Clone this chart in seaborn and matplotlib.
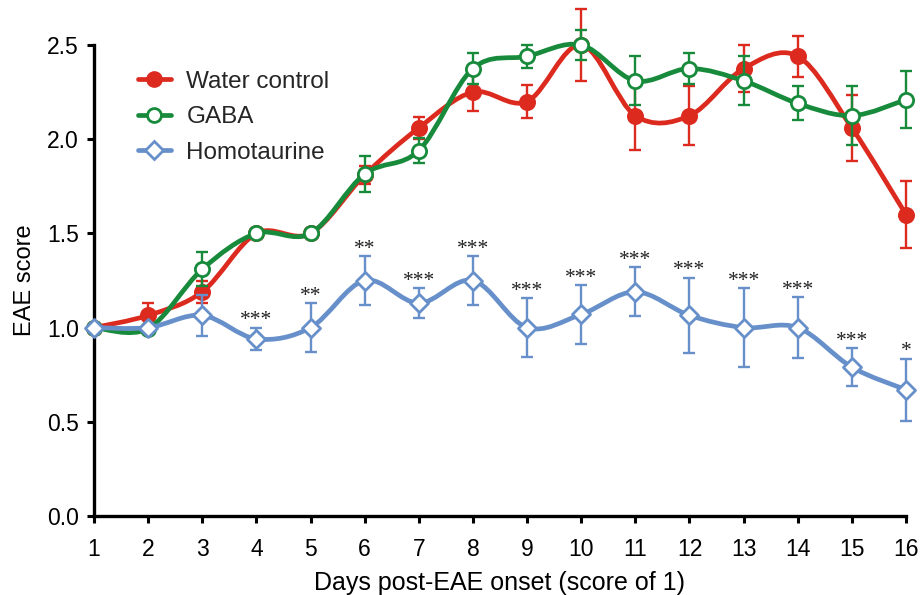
import numpy as np
import pandas as pd
import matplotlib
matplotlib.use("Agg")
import matplotlib.pyplot as plt
from matplotlib.path import Path
from matplotlib.patches import PathPatch
from matplotlib.lines import Line2D
import seaborn as sns

# ---------------- data ----------------
days = list(range(1, 17))

water_mean = [1.0, 1.065, 1.19, 1.5, 1.5, 1.81, 2.06, 2.25, 2.2, 2.5, 2.125, 2.125, 2.375, 2.44, 2.06, 1.6]
water_err = [0.0, 0.065, 0.06, 0.0, 0.0, 0.05, 0.06, 0.10, 0.09, 0.19, 0.18, 0.155, 0.125, 0.11, 0.175, 0.18]

gaba_mean = [1.0, 0.995, 1.31, 1.5, 1.5, 1.815, 1.94, 2.375, 2.44, 2.5, 2.31, 2.375, 2.31, 2.19, 2.125, 2.21]
gaba_err = [0.0, 0.0, 0.09, 0.0, 0.0, 0.095, 0.065, 0.08, 0.06, 0.08, 0.13, 0.08, 0.13, 0.09, 0.155, 0.15]

homo_mean = [1.0, 1.0, 1.065, 0.94, 1.0, 1.25, 1.13, 1.25, 1.0, 1.07, 1.19, 1.065, 1.0, 1.0, 0.79, 0.67]
homo_err = [0.0, 0.0, 0.11, 0.06, 0.13, 0.13, 0.08, 0.13, 0.155, 0.155, 0.13, 0.2, 0.21, 0.16, 0.10, 0.165]

stars = ["", "", "", "***", "**", "**", "***", "***", "***", "***", "***", "***", "***", "***", "***", "*"]

series_names = ["Water control", "GABA", "Homotaurine"]
x_ticks = list(range(1, 17))
y_ticks = [0.0, 0.5, 1.0, 1.5, 2.0, 2.5]
x_label = "Days post-EAE onset (score of 1)"
y_label = "EAE score"

# ---------------- style ----------------
sns.set_style("ticks")
plt.rcParams["font.family"] = ["Liberation Sans", "DejaVu Sans"]

RED = "#DC2A1F"
GREEN = "#178B3B"
BLUE = "#6790CB"

fig = plt.figure(figsize=(9.23, 5.95), dpi=100)
ax = fig.add_axes([94 / 923, 1 - 516 / 595, 812 / 923, 471 / 595])


def smooth_path(xs, ys):
    """Catmull-Rom curve through the points, expressed as cubic Bezier segments."""
    pts = np.column_stack([xs, ys]).astype(float)
    n = len(pts)
    verts = [pts[0]]
    codes = [Path.MOVETO]
    for i in range(n - 1):
        p0 = pts[i - 1] if i > 0 else pts[i]
        p1 = pts[i]
        p2 = pts[i + 1]
        p3 = pts[i + 2] if i + 2 < n else pts[i + 1]
        c1 = p1 + (p2 - p0) / 6.0
        c2 = p2 - (p3 - p1) / 6.0
        verts += [c1, c2, p2]
        codes += [Path.CURVE4] * 3
    return Path(verts, codes)


specs = [
    (series_names[0], water_mean, water_err, RED, "o", RED, 1),
    (series_names[1], gaba_mean, gaba_err, GREEN, "o", "white", 2),
    (series_names[2], homo_mean, homo_err, BLUE, "D", "white", 3),
]

for name, mean, err, col, mk, face, z in specs:
    df = pd.DataFrame({"day": days, "score": mean, "err": err})
    # smooth line
    patch = PathPatch(smooth_path(df["day"], df["score"]), facecolor="none",
                      edgecolor=col, lw=3.4, zorder=z * 10, clip_on=False,
                      capstyle="round", joinstyle="round")
    ax.add_patch(patch)
    # error bars
    e = df[df["err"] > 0]
    ax.errorbar(e["day"], e["score"], yerr=e["err"], fmt="none", ecolor=col,
                elinewidth=1.7, capsize=4.5, capthick=1.7, zorder=z * 10 + 1,
                clip_on=False)
    # markers
    sns.scatterplot(data=df, x="day", y="score", ax=ax, marker=mk,
                    s=(105 if mk == "o" else 85), color=face, edgecolor=col,
                    linewidth=2.0, zorder=z * 10 + 2, clip_on=False, legend=False)

# significance stars
for d, m, e, s in zip(days, homo_mean, homo_err, stars):
    if s:
        ax.annotate(s, xy=(d, m + e), xytext=(0, 5), textcoords="offset points",
                    ha="center", va="center", fontsize=15.5, color="#222222",
                    family=["Liberation Serif", "DejaVu Serif"], zorder=50)

# axes
ax.set_xlim(1, 16)
ax.set_ylim(0, 2.5)
ax.set_xticks(x_ticks)
ax.set_xticklabels([str(t) for t in x_ticks])
ax.set_yticks(y_ticks)
ax.set_yticklabels([f"{t:.1f}" for t in y_ticks])
ax.tick_params(axis="both", direction="out", length=5, width=2.2, labelsize=16.5,
               color="black", labelcolor="black")
ax.tick_params(axis="x", pad=11)
ax.tick_params(axis="y", pad=6)
ax.set_xlabel(x_label, fontsize=18, labelpad=7, color="black")
ax.set_ylabel(y_label, fontsize=17, labelpad=8, color="black")
sns.despine(ax=ax)
for sp in ["left", "bottom"]:
    ax.spines[sp].set_linewidth(2.4)
    ax.spines[sp].set_color("black")
ax.grid(False)

# legend
handles = [
    Line2D([], [], color=RED, lw=3.4, marker="o", markersize=10, markerfacecolor=RED,
           markeredgecolor=RED, markeredgewidth=2),
    Line2D([], [], color=GREEN, lw=3.4, marker="o", markersize=10, markerfacecolor="white",
           markeredgecolor=GREEN, markeredgewidth=2),
    Line2D([], [], color=BLUE, lw=3.4, marker="D", markersize=9, markerfacecolor="white",
           markeredgecolor=BLUE, markeredgewidth=2),
]
leg = ax.legend(handles, series_names, loc="upper left", bbox_to_anchor=(0.054, 0.945),
                frameon=False, fontsize=17.5, handlelength=1.35, handletextpad=0.65,
                labelspacing=0.55, borderpad=0, borderaxespad=0)

fig.savefig("out.png", dpi=100)
